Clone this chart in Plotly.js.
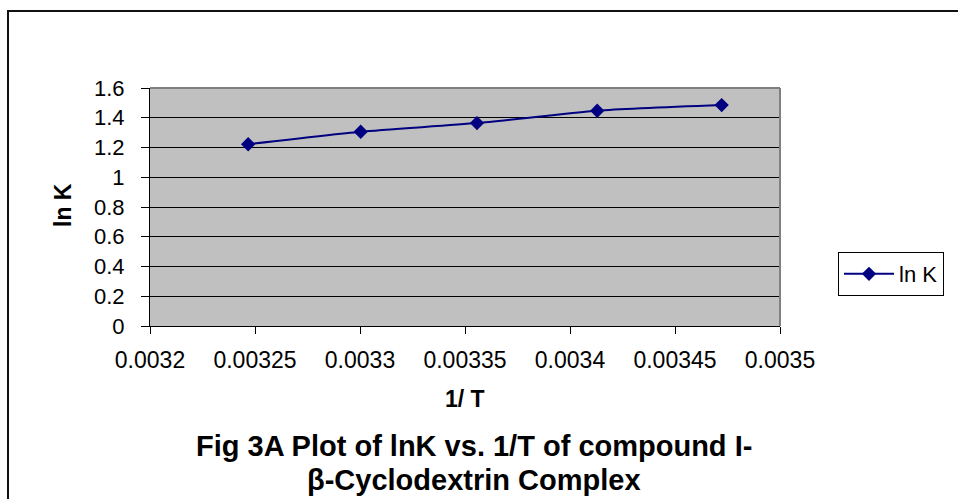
<!DOCTYPE html>
<html>
<head>
<meta charset="utf-8">
<script src="https://cdn.plot.ly/plotly-3.0.1.min.js"></script>
<style>
html,body{margin:0;padding:0;background:#fff;}
#chart{width:958px;height:499px;}
</style>
</head>
<body>
<div id="chart"></div>
<script>
// data
const invT = [1/308, 1/303, 1/298, 1/293, 1/288];
const lnK = [1.222, 1.306, 1.364, 1.447, 1.485];
const seriesName = "ln K";
const xTickVals = [0.0032, 0.00325, 0.0033, 0.00335, 0.0034, 0.00345, 0.0035];
const xTickText = ["0.0032", "0.00325", "0.0033", "0.00335", "0.0034", "0.00345", "0.0035"];
const yTickVals = [0, 0.2, 0.4, 0.6, 0.8, 1, 1.2, 1.4, 1.6];
const yTickText = ["0", "0.2", "0.4", "0.6", "0.8", "1", "1.2", "1.4", "1.6"];

const W = 958, H = 499;
const L = 150, R = 780, T = 88, B = 326;
const pw = R - L, ph = B - T;
const px = v => (v - L) / pw;
const py = v => (B - v) / ph;

const font = "Liberation Sans, Arial, sans-serif";
const navy = "#000080";

const trace = {
  x: invT, y: lnK, name: seriesName,
  type: "scatter", mode: "lines+markers",
  line: {color: navy, width: 2, shape: "spline", smoothing: 0.6},
  marker: {symbol: "diamond", size: 11, color: navy}
};

const layout = {
  width: W, height: H,
  margin: {l: L, r: W - R, t: T, b: H - B, pad: 0},
  paper_bgcolor: "#ffffff",
  plot_bgcolor: "#c0c0c0",
  font: {family: font, color: "#000", size: 22},
  showlegend: true,
  legend: {
    x: px(838), xanchor: "left", y: py(274), yanchor: "middle",
    bordercolor: "#000", borderwidth: 1, bgcolor: "#fff",
    itemwidth: 50,
    font: {family: font, size: 22, color: "#000"}
  },
  xaxis: {
    range: [0.0032, 0.0035],
    tickvals: xTickVals, ticktext: xTickText,
    ticks: "outside", ticklen: 7, tickcolor: "#000", tickwidth: 1,
    showline: true, linecolor: "#000", linewidth: 1,
    showgrid: false, zeroline: false,
    tickfont: {family: font, size: 23},
    ticklabelstandoff: 6
  },
  yaxis: {
    range: [0, 1.6],
    tickvals: yTickVals, ticktext: yTickText,
    ticks: "outside", ticklen: 8, tickcolor: "#000", tickwidth: 1,
    showline: true, linecolor: "#000", linewidth: 1,
    showgrid: true, gridcolor: "#000", gridwidth: 1,
    zeroline: false,
    tickfont: {family: font, size: 22},
    ticklabelstandoff: 12
  },
  shapes: [
    {type: "line", xref: "paper", yref: "paper", x0: 0, x1: 1, y0: 1, y1: 1,
     line: {color: "#808080", width: 2}},
    {type: "line", xref: "paper", yref: "paper", x0: 1, x1: 1, y0: 0, y1: 1,
     line: {color: "#808080", width: 2}},
    {type: "rect", xref: "paper", yref: "paper",
     x0: px(8), x1: px(965), y0: py(11), y1: py(510),
     line: {color: "#111", width: 2}, layer: "below"}
  ],
  annotations: [
    {text: "<b>1/ T</b>", xref: "paper", yref: "paper", x: px(465), y: py(399),
     xanchor: "center", yanchor: "middle", showarrow: false,
     font: {family: font, size: 23}},
    {text: "<b>ln K</b>", xref: "paper", yref: "paper", x: px(63), y: py(205),
     xanchor: "center", yanchor: "middle", showarrow: false, textangle: -90,
     font: {family: font, size: 23}},
    {text: "<b>Fig 3A Plot of lnK vs. 1/T of compound I-</b>", xref: "paper", yref: "paper",
     x: px(474), y: py(446), xanchor: "center", yanchor: "middle", showarrow: false,
     font: {family: font, size: 29}},
    {text: "<b>β-Cyclodextrin Complex</b>", xref: "paper", yref: "paper",
     x: px(474), y: py(480), xanchor: "center", yanchor: "middle", showarrow: false,
     font: {family: font, size: 29}}
  ]
};

Plotly.newPlot("chart", [trace], layout, {displayModeBar: false, staticPlot: true});
</script>
</body>
</html>
